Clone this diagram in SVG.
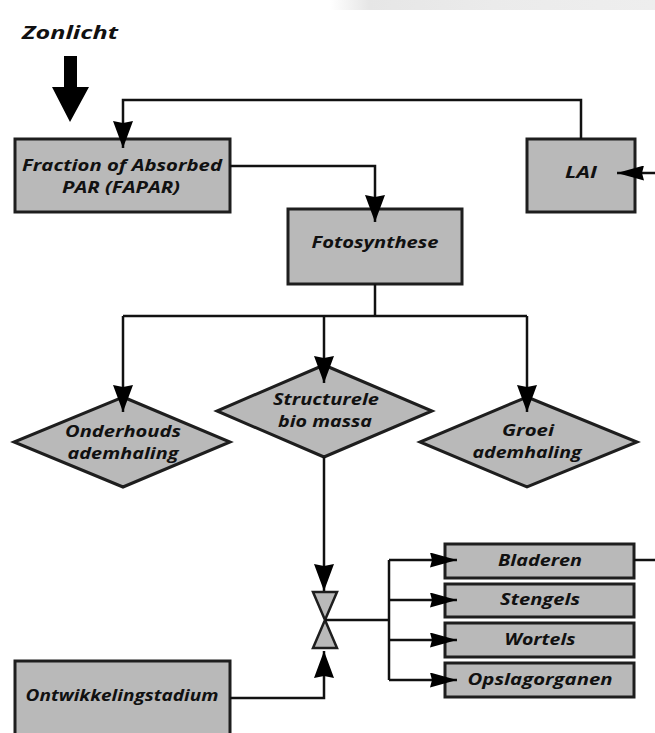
<svg xmlns="http://www.w3.org/2000/svg" width="655" height="733" viewBox="0 0 655 733">
<style>
.box{fill:#b9b9b9;stroke:#1e1e1e;stroke-width:3}
.t{font-family:"Open Sans","Noto Sans","DejaVu Sans",sans-serif;font-weight:bold;font-style:italic;font-size:16.5px;fill:#111;text-anchor:middle}
.ln{fill:none;stroke:#111;stroke-width:2.5}
</style>
<defs>
<linearGradient id="bar" x1="0" y1="0" x2="1" y2="0">
<stop offset="0" stop-color="#ffffff"/>
<stop offset="0.12" stop-color="#e6e6e6"/>
<stop offset="0.5" stop-color="#ebebeb"/>
<stop offset="1" stop-color="#eeeeee"/>
</linearGradient>
<marker id="av" viewBox="0 0 27 20" refX="27" refY="10" markerWidth="27" markerHeight="20" markerUnits="userSpaceOnUse" orient="auto">
<path d="M0,0 L27,10 L0,20 L2,10 Z" fill="#000"/>
</marker>
<marker id="ah" viewBox="0 0 27 15" refX="27" refY="7.5" markerWidth="27" markerHeight="15" markerUnits="userSpaceOnUse" orient="auto">
<path d="M0,0 L27,7.5 L0,15 L2,7.5 Z" fill="#000"/>
</marker>
</defs>
<rect x="330" y="0" width="325" height="10" fill="url(#bar)"/>

<g id="zonlicht">
<text class="t" x="70" y="39" style="font-size:18px" textLength="96" lengthAdjust="spacingAndGlyphs">Zonlicht</text>
<polygon points="64,56 77,56 77,87 89,87 70,122 52,87 64,87" fill="#000"/>
</g>

<g id="fapar">
<rect class="box" x="15" y="139" width="215" height="73"/>
<text class="t" x="122" y="171" textLength="200" lengthAdjust="spacingAndGlyphs">Fraction of Absorbed</text>
<text class="t" x="121" y="193" textLength="118" lengthAdjust="spacingAndGlyphs">PAR (FAPAR)</text>
</g>

<g id="lai">
<rect class="box" x="527" y="139" width="108" height="73"/>
<text class="t" x="581" y="178" textLength="32" lengthAdjust="spacingAndGlyphs">LAI</text>
</g>

<g id="fotosynthese">
<rect class="box" x="288" y="209" width="174" height="75"/>
<text class="t" x="375" y="248" textLength="127" lengthAdjust="spacingAndGlyphs">Fotosynthese</text>
</g>

<g id="onderhouds">
<polygon class="box" points="123,397 230,442 123,487 14,442"/>
<text class="t" x="123" y="437" textLength="116" lengthAdjust="spacingAndGlyphs">Onderhouds</text>
<text class="t" x="123" y="459" textLength="111" lengthAdjust="spacingAndGlyphs">ademhaling</text>
</g>

<g id="structurele">
<polygon class="box" points="324,365 432,411 324,457 217,411"/>
<text class="t" x="326" y="405" textLength="106" lengthAdjust="spacingAndGlyphs">Structurele</text>
<text class="t" x="325" y="427" textLength="94" lengthAdjust="spacingAndGlyphs">bio massa</text>
</g>

<g id="groei">
<polygon class="box" points="527,397 637,442 527,487 420,442"/>
<text class="t" x="528" y="436" textLength="52" lengthAdjust="spacingAndGlyphs">Groei</text>
<text class="t" x="527" y="458" textLength="109" lengthAdjust="spacingAndGlyphs">ademhaling</text>
</g>

<g id="valve">
<polygon points="313,592 337,592 325,620 337,648 313,648 325,620" fill="#b9b9b9" stroke="#1e1e1e" stroke-width="2.5" stroke-linejoin="miter"/>
</g>

<g id="bladeren">
<rect class="box" x="445" y="544" width="189" height="34"/>
<text class="t" x="540" y="566" textLength="84" lengthAdjust="spacingAndGlyphs">Bladeren</text>
</g>
<g id="stengels">
<rect class="box" x="445" y="584" width="189" height="33"/>
<text class="t" x="540" y="605" textLength="80" lengthAdjust="spacingAndGlyphs">Stengels</text>
</g>
<g id="wortels">
<rect class="box" x="445" y="623" width="189" height="34"/>
<text class="t" x="540" y="645" textLength="71" lengthAdjust="spacingAndGlyphs">Wortels</text>
</g>
<g id="opslagorganen">
<rect class="box" x="445" y="663" width="189" height="34"/>
<text class="t" x="540" y="685" textLength="145" lengthAdjust="spacingAndGlyphs">Opslagorganen</text>
</g>

<g id="ontwikkelingstadium">
<rect class="box" x="15" y="661" width="215" height="80"/>
<text class="t" x="122" y="701" textLength="193" lengthAdjust="spacingAndGlyphs">Ontwikkelingstadium</text>
</g>

<g id="connectors">
<path class="ln" d="M581,139 V100 H123 V148" marker-end="url(#av)"/>
<path class="ln" d="M655,173 H617" marker-end="url(#ah)"/>
<path class="ln" d="M230,166 H375 V222" marker-end="url(#av)"/>
<path class="ln" d="M375,284 V316"/>
<path class="ln" d="M123,316 H527"/>
<path class="ln" d="M123,316 V412" marker-end="url(#av)"/>
<path class="ln" d="M324,316 V383" marker-end="url(#av)"/>
<path class="ln" d="M527,316 V412" marker-end="url(#av)"/>
<path class="ln" d="M324,457 V591" marker-end="url(#av)"/>
<path class="ln" d="M230,698 H324 V651" marker-end="url(#av)"/>
<path class="ln" d="M325,620 H389"/>
<path class="ln" d="M389,560 V680"/>
<path class="ln" d="M389,560 H457" marker-end="url(#ah)"/>
<path class="ln" d="M389,600 H457" marker-end="url(#ah)"/>
<path class="ln" d="M389,640 H457" marker-end="url(#ah)"/>
<path class="ln" d="M389,680 H457" marker-end="url(#ah)"/>
<path class="ln" d="M634,560 H655"/>
</g>
</svg>
